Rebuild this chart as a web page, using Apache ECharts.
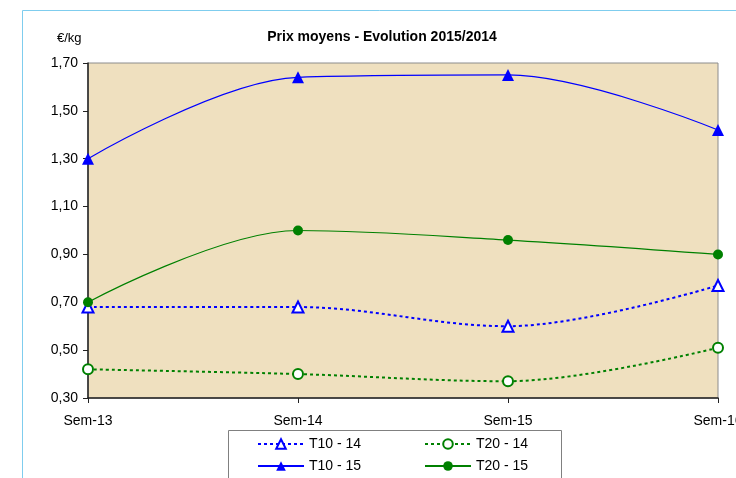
<!DOCTYPE html>
<html>
<head>
    <meta charset="utf-8">
    <title>Prix moyens</title>
    <style type="text/css">
        html, body { margin: 0; padding: 0; background: #fff; }
        #main { width: 736px; height: 478px; }
    </style>
</head>
<body>
<div id="main"></div>
<script type="text/javascript" src="https://cdn.jsdelivr.net/npm/echarts@6/dist/echarts.min.js"></script>
<script type="text/javascript">
    var semaines = ['Sem-13', 'Sem-14', 'Sem-15', 'Sem-16'];
    var t10_14 = [0.68, 0.68, 0.60, 0.77];
    var t20_14 = [0.42, 0.40, 0.37, 0.51];
    var t10_15 = [1.30, 1.64, 1.65, 1.42];
    var t20_15 = [0.70, 1.00, 0.96, 0.90];
    var yTicks = [0.30, 0.50, 0.70, 0.90, 1.10, 1.30, 1.50, 1.70];

    var bleu = '#0000ff';
    var vert = '#008000';
    var police = 'Liberation Sans, Arial, sans-serif';

    var myChart = echarts.init(document.getElementById('main'));

    // deux colonnes de légende, comme dans Excel
    function legende(noms, gauche) {
        return {
            data: noms,
            orient: 'vertical',
            left: gauche,
            top: 437,
            padding: 0,
            itemWidth: 46,
            itemHeight: 12,
            itemGap: 8,
            textStyle: { fontSize: 14, color: '#000', fontFamily: police }
        };
    }

    myChart.setOption({
        animation: false,
        textStyle: { fontFamily: police },
        title: {
            text: 'Prix moyens - Evolution 2015/2014',
            left: 377,
            textAlign: 'center',
            top: 25,
            textStyle: { fontSize: 14, fontWeight: 'bold', color: '#000', fontFamily: police }
        },
        graphic: [
            {
                type: 'rect',
                shape: { x: 22.5, y: 10.5, width: 800, height: 600 },
                style: { fill: 'none', stroke: '#7fcdee', lineWidth: 1 },
                z: -10
            },
            {
                type: 'rect',
                shape: { x: 228.5, y: 430.5, width: 333, height: 60 },
                style: { fill: '#fff', stroke: '#808080', lineWidth: 1 },
                z: -5
            },
            {
                type: 'text',
                left: 57,
                top: 32,
                style: { text: '€/kg', font: '13px ' + police, fill: '#000' }
            }
        ],
        grid: {
            left: 88,
            right: 18,
            top: 63,
            bottom: 80,
            outerBoundsMode: 'none',
            containLabel: false,
            show: true,
            backgroundColor: '#efe0bf',
            borderColor: '#8c8c8c',
            borderWidth: 1
        },
        legend: [
            legende(['T10 - 14', 'T10 - 15'], 257),
            legende(['T20 - 14', 'T20 - 15'], 424)
        ],
        xAxis: {
            type: 'category',
            data: semaines,
            boundaryGap: false,
            axisLine: { lineStyle: { color: '#222', width: 1.5 } },
            axisTick: { show: true, alignWithLabel: true, length: 5, lineStyle: { color: '#222' } },
            axisLabel: { color: '#000', fontSize: 14, margin: 16, hideOverlap: false },
            splitLine: { show: false }
        },
        yAxis: {
            type: 'value',
            min: 0.30,
            max: 1.70,
            interval: 0.20,
            axisLine: { show: true, lineStyle: { color: '#222', width: 1.5 } },
            axisTick: { show: true, length: 5, lineStyle: { color: '#222' } },
            axisLabel: {
                color: '#000',
                fontSize: 14,
                margin: 10,
                formatter: function (v) {
                    var t = yTicks.find(function (k) { return Math.abs(k - v) < 1e-6; });
                    return (t !== undefined ? t : v).toFixed(2).replace('.', ',');
                }
            },
            splitLine: { show: false }
        },
        series: [
            {
                name: 'T10 - 14',
                type: 'line',
                smooth: 0.35,
                data: t10_14,
                symbol: 'emptyTriangle',
                symbolSize: 11,
                lineStyle: { color: bleu, width: 2, type: [3, 3] },
                itemStyle: { color: bleu, borderColor: bleu, borderWidth: 1 }
            },
            {
                name: 'T20 - 14',
                type: 'line',
                smooth: 0.35,
                data: t20_14,
                symbol: 'emptyCircle',
                symbolSize: 10,
                lineStyle: { color: vert, width: 2, type: [3, 3] },
                itemStyle: { color: vert, borderColor: vert, borderWidth: 1 }
            },
            {
                name: 'T10 - 15',
                type: 'line',
                smooth: 0.35,
                data: t10_15,
                symbol: 'triangle',
                symbolSize: 12,
                lineStyle: { color: bleu, width: 1.2 },
                itemStyle: { color: bleu }
            },
            {
                name: 'T20 - 15',
                type: 'line',
                smooth: 0.35,
                data: t20_15,
                symbol: 'circle',
                symbolSize: 10,
                lineStyle: { color: vert, width: 1.2 },
                itemStyle: { color: vert }
            }
        ]
    });
</script>
</body>
</html>
